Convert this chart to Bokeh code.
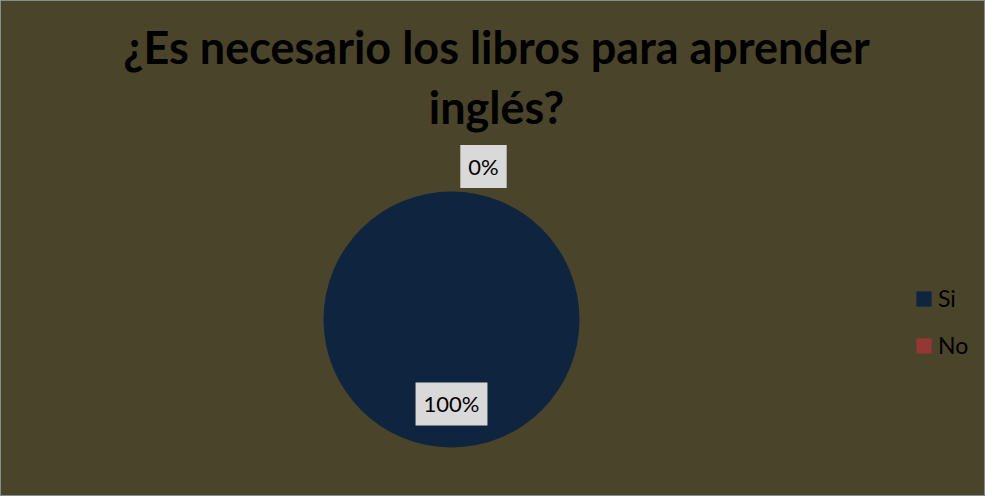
import math
from bokeh.plotting import figure
from bokeh.models import Range1d, Legend, LegendItem, Label
from bokeh.core.properties import value
from bokeh.embed import file_html
from bokeh.resources import INLINE

# ---- data ----
categories = ["Si", "No"]
values = [100, 0]
pct_labels = ["100%", "0%"]
colors = ["#0f243e", "#953735"]
title_lines = ["¿Es necesario los libros para aprender", "inglés?"]

W, H = 985, 496
BG = "#4a442a"
FONT = "Lato"

p = figure(width=W, height=H, output_backend="svg", toolbar_location=None,
           x_range=Range1d(0, W), y_range=Range1d(0, H), min_border=0)
p.axis.visible = False
p.grid.visible = False
p.background_fill_color = BG
p.border_fill_color = BG
p.outline_line_color = "#8c8c8c"
p.outline_line_width = 1

cx, cy, r = 451, 177, 128

total = sum(values)
# Excel-style: start at 12 o'clock, go clockwise
starts, ends, mids = [], [], []
acc = 0.0
for v in values:
    a0 = math.pi / 2 - 2 * math.pi * acc / total
    acc += v
    a1 = math.pi / 2 - 2 * math.pi * acc / total
    starts.append(a1)
    ends.append(a0)
    mids.append((a0 + a1) / 2)

renderers = []
for i in range(len(categories)):
    frac = values[i] / total
    rr = p.wedge(x=cx, y=cy, radius=r, start_angle=starts[i], end_angle=ends[i],
                 fill_color=colors[i], line_color=None)
    if frac <= 0 or frac >= 1:
        # degenerate slice (empty or whole pie): hide wedge, keep legend entry
        rr.visible = False
    if frac >= 1:
        p.circle(x=cx, y=cy, radius=r, fill_color=colors[i], line_color=None)
    renderers.append(rr)

# data labels
lx, ly = [], []
for i, v in enumerate(values):
    frac = v / total
    if frac > 0.05:
        d = 0.66 * r
        dxo = 0
    else:
        d = r + 25
        dxo = 32
    lx.append(cx + d * math.cos(mids[i]) + dxo)
    ly.append(cy + d * math.sin(mids[i]))

p.text(x=lx, y=ly, text=pct_labels, text_font=value(FONT), text_font_size="22px",
       text_align="center", text_baseline="middle", text_color="#000000",
       background_fill_color="#d9d9d9", padding=8)

# title
title_y = [450, 390]
for line, ty in zip(title_lines, title_y):
    p.add_layout(Label(x=496, y=ty, text=line, text_font=FONT, text_font_size="45px",
                       text_font_style="bold", text_align="center",
                       text_baseline="alphabetic", text_color="#000000"))

legend = Legend(items=[LegendItem(label=c, renderers=[rr]) for c, rr in zip(categories, renderers)],
                location=(914, 137), orientation="vertical",
                glyph_width=19, glyph_height=19, label_height=19, spacing=19,
                label_text_font=FONT, label_text_font_size="23px", label_text_color="#000000",
                label_standoff=5, padding=0, margin=0,
                inactive_fill_alpha=0, click_policy="none",
                background_fill_alpha=0, border_line_alpha=0)
p.add_layout(legend)

open("out.html", "w").write(file_html(p, INLINE))
